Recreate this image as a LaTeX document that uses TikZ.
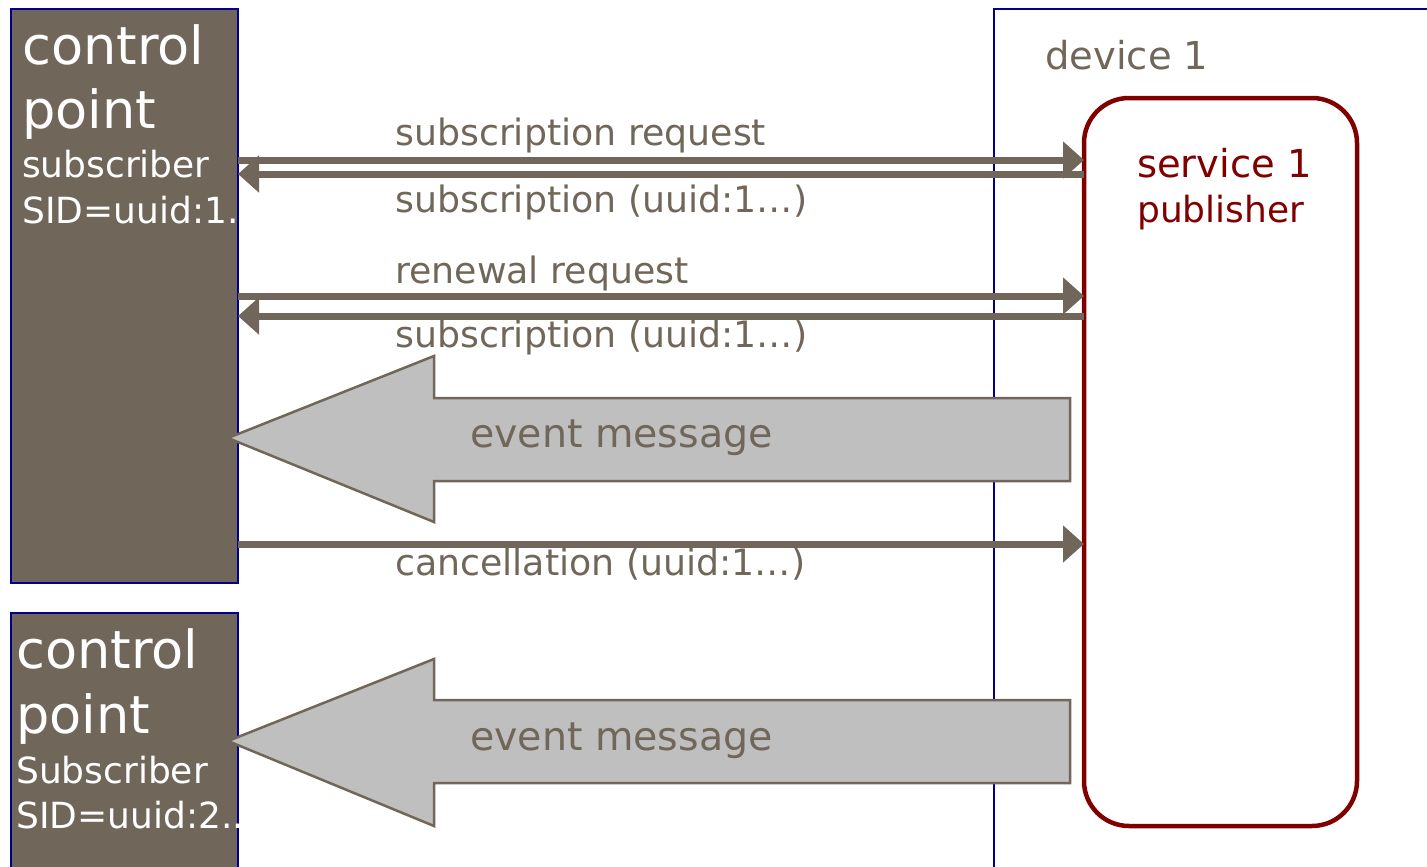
\documentclass[tikz,border=0pt]{standalone}
\usepackage{fontspec}
\setmainfont{DejaVu Sans}
\usetikzlibrary{arrows.meta}
\usetikzlibrary{positioning}
\usetikzlibrary{calc}
\definecolor{taupe}{RGB}{112,103,90}
\definecolor{navyline}{RGB}{0,0,140}
\definecolor{darkred}{RGB}{128,0,0}
\definecolor{msgfill}{RGB}{191,191,191}

\tikzset{
  cpbox/.style={draw=navyline, line width=1.5pt, fill=taupe, inner sep=0pt, outer sep=0pt},
  svcbox/.style={draw=darkred, line width=4.5pt, rounded corners=45pt, inner sep=0pt, outer sep=0pt},
  msg/.style={taupe, line width=7pt, -{Triangle[length=21pt,width=36pt]}},
  fatmsg/.style={draw=taupe, line width=2.5pt, fill=msgfill, line join=miter},
  lbl/.style={taupe, inner sep=0pt, anchor=base west, font=\fontsize{36.3}{40}\selectfont},
  cptxt/.style={white, inner sep=0pt, anchor=base west},
}

\begin{document}
\begin{tikzpicture}[x=1pt, y=-1pt]
\useasboundingbox (0,0) rectangle (1427,867);
\clip (0,0) rectangle (1427,867);

%---------------------------------------
% Device frame
%---------------------------------------
\draw[navyline, line width=1.5pt] (994,9) rectangle (1460,900);
\node[taupe, inner sep=0pt, anchor=base west, font=\fontsize{38.5}{44}\selectfont]
  (dev) at (1045,70) {device 1};

%---------------------------------------
% Control points and service
%---------------------------------------
\node[cpbox, minimum width=227pt, minimum height=574pt] (cp1) at (124.5,296) {};
\node[cpbox, minimum width=227pt, minimum height=300pt] (cp2) at (124.5,763) {};
\node[svcbox, minimum width=273pt, minimum height=728pt] (svc) at (1220.5,462) {};

% text in the control points
\node[cptxt, font=\fontsize{52.5}{60}\selectfont] (cp1a) at (22,64) {control};
\node[cptxt, font=\fontsize{52.5}{60}\selectfont] (cp1b) at (22,128) {point};
\node[cptxt, font=\fontsize{36}{40}\selectfont] (cp1c) at (22,177) {subscriber};
\node[cptxt, font=\fontsize{36}{40}\selectfont] (cp1d) at (22,223) {SID=uuid:1.};

\node[cptxt, font=\fontsize{52.5}{60}\selectfont] (cp2a) at (16,668) {control};
\node[cptxt, font=\fontsize{52.5}{60}\selectfont] (cp2b) at (16,733) {point};
\node[cptxt, font=\fontsize{36}{40}\selectfont] (cp2c) at (16,783) {Subscriber};
\node[cptxt, font=\fontsize{36}{40}\selectfont] (cp2d) at (16,828) {SID=uuid:2..};

% text in the service
\node[darkred, inner sep=0pt, anchor=base west, font=\fontsize{38.5}{44}\selectfont]
  (svca) at (1137,177) {service 1};
\node[darkred, inner sep=0pt, anchor=base west, font=\fontsize{36}{40}\selectfont]
  (svcb) at (1137,222) {publisher};

%---------------------------------------
% Messages
%---------------------------------------
\draw[msg] (cp1.east |- 0,160) -- (svc.west |- 0,160);
\draw[msg] (svc.west |- 0,174) -- (cp1.east |- 0,174);
\draw[msg] (cp1.east |- 0,296) -- (svc.west |- 0,296);
\draw[msg] (svc.west |- 0,316) -- (cp1.east |- 0,316);
\draw[msg] (cp1.east |- 0,544) -- (svc.west |- 0,544);

\node[lbl] (lreq)  at (395,145) {subscription request};
\node[lbl] (lsub1) at (395,212) {subscription (uuid:1…)};
\node[lbl] (lren)  at (395,283) {renewal request};
\node[lbl] (lsub2) at (395,347) {subscription (uuid:1…)};
\node[lbl] (lcan)  at (395,575) {cancellation (uuid:1…)};

% ---- event messages (fat arrows) ----
\draw[fatmsg] (228,438) -- (434,356) -- (434,398) -- (1070,398)
  -- (1070,481) -- (434,481) -- (434,522) -- cycle;
\node[taupe, inner sep=0pt, anchor=base west, font=\fontsize{39.5}{44}\selectfont]
  (ev1) at (470,447) {event message};

\draw[fatmsg] (228,741) -- (434,659) -- (434,700) -- (1070,700)
  -- (1070,783) -- (434,783) -- (434,826) -- cycle;
\node[taupe, inner sep=0pt, anchor=base west, font=\fontsize{39.5}{44}\selectfont]
  (ev2) at (470,750) {event message};

\end{tikzpicture}
\end{document}
